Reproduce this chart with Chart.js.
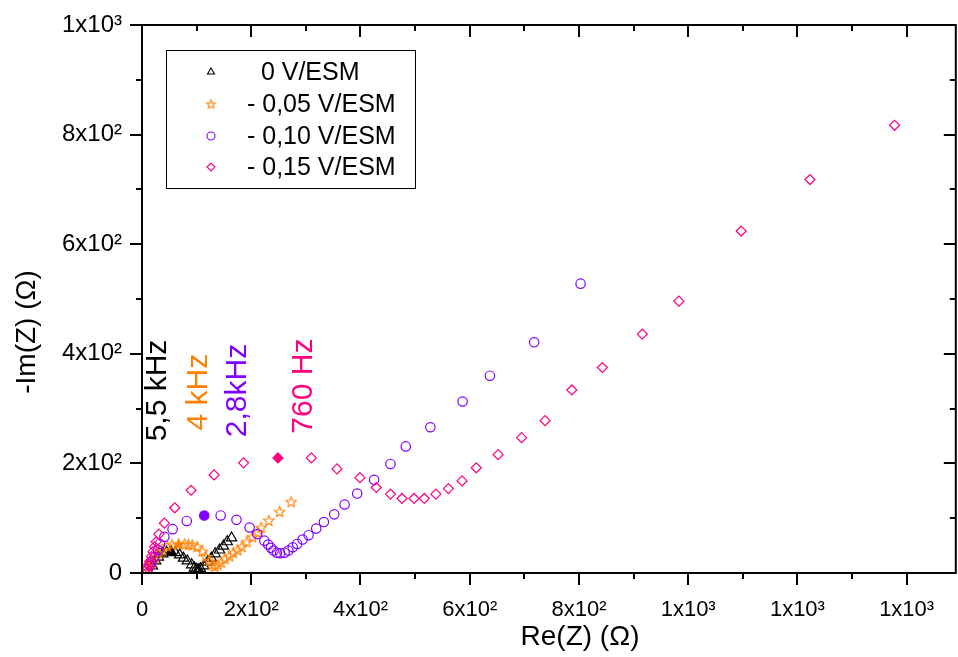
<!DOCTYPE html>
<html lang="pt">
<head>
<meta charset="UTF-8">
<title>Diagrama de Nyquist</title>
<script src="https://cdn.jsdelivr.net/npm/chart.js"></script>
<style>
    html, body { margin: 0; background: #fff; overflow: hidden; }
    /* um pouco mais largo que a janela: o Chart.js reserva ~7px à direita */
    #wrap { width: 963px; height: 657px; }
</style>
</head>
<body>
<div id="wrap"><canvas id="nyquist"></canvas></div>
<script>
// Re(Z) e -Im(Z) em ohm
const re0  = [19, 25, 30, 38, 45, 53, 61, 69, 76, 83, 91, 96, 99, 102, 104, 107, 113, 120, 127, 134, 142, 149, 156, 164];
const im0  = [13, 22, 29, 35, 38, 39, 37, 33, 27, 22, 15, 9, 7, 5, 6, 8, 13, 20, 27, 35, 42, 49, 57, 64];
const re05 = [14, 19, 25, 31, 38, 46, 55, 67, 78, 85, 92, 101, 110, 117, 123, 128, 133, 139, 145, 152, 160, 167, 175, 183, 192, 202, 212, 218, 232, 252, 273];
const im05 = [9, 18, 29, 36, 42, 49, 52, 53, 53, 52, 51, 48, 40, 30, 22, 15, 12, 15, 19, 26, 31, 37, 42, 48, 57, 66, 74, 83, 96, 112, 130];
const re10 = [10, 14, 17, 23, 29, 33, 41, 56, 82, 114, 144, 173, 197, 211, 224, 231, 236, 241, 247, 253, 261, 268, 276, 284, 294, 305, 319, 333, 352, 371, 394, 425, 455, 483, 528, 587, 637, 718, 803];
const im10 = [6, 13, 20, 29, 42, 53, 66, 80, 95, 105, 105, 97, 83, 71, 59, 52, 46, 41, 37, 36, 37, 41, 47, 53, 61, 69, 81, 93, 107, 125, 145, 170, 199, 231, 266, 313, 360, 421, 528];
const re15 = [10, 10, 12, 14, 17, 20, 23, 26, 31, 41, 60, 90, 132, 186, 249, 310, 357, 399, 429, 455, 476, 498, 517, 538, 561, 586, 612, 652, 695, 738, 787, 843, 916, 983, 1097, 1223, 1378];
const im15 = [2, 9, 15, 21, 30, 39, 48, 57, 71, 91, 119, 151, 179, 201, 210, 210, 190, 174, 156, 144, 136, 136, 136, 144, 154, 168, 192, 216, 247, 278, 334, 375, 436, 496, 624, 718, 817];

// ponto da frequência característica (marcador cheio) em cada série
const destaque = [5, 7, 9, 14];

const rotulos = ['  0 V/ESM', '- 0,05 V/ESM', '- 0,10 V/ESM', '- 0,15 V/ESM'];
const cores = ['#000000', '#FF8000', '#8000FF', '#FF0080'];

// anotações de frequência: texto e posição (Re, -Im) do centro
const freqTexto = ['5,5 kHz', '4 kHz', '2,8kHz', '760 Hz'];
const freqRe = [29, 103, 175, 296];
const freqIm = [333, 330, 333, 341];

const xTicks = [0, 200, 400, 600, 800, 1000, 1200, 1400];
const yTicks = [0, 200, 400, 600, 800, 1000];

const fonte = "'Liberation Sans', Arial, sans-serif";

function estrela(cor, cheia, r) {
    const c = document.createElement('canvas');
    c.width = c.height = 2 * r + 4;
    const g = c.getContext('2d');
    g.beginPath();
    for (let i = 0; i < 10; i++) {
        const rr = i % 2 ? r * 0.45 : r;
        const a = -Math.PI / 2 + i * Math.PI / 5;
        g.lineTo(r + 2 + rr * Math.cos(a), r + 2.5 + rr * Math.sin(a));
    }
    g.closePath();
    g.lineWidth = 1.1;
    g.strokeStyle = cor;
    if (cheia) { g.fillStyle = cor; g.fill(); }
    g.stroke();
    return c;
}

const estAberta = estrela(cores[1], false, 5.5);
const estCheia = estrela(cores[1], true, 5.5);
const estLegenda = estrela(cores[1], false, 4.5);

function pontos(re, im) {
    return re.map((x, i) => ({ x: x, y: im[i] }));
}

function serie(k, re, im, estilo, raio) {
    const n = re.length;
    return {
        label: rotulos[k],
        data: pontos(re, im),
        showLine: false,
        borderColor: cores[k],
        borderWidth: 1.2,
        pointRadius: raio,
        pointStyle: estilo === 'star'
            ? re.map((_, i) => i === destaque[k] ? estCheia : estAberta)
            : estilo,
        backgroundColor: Array.from({ length: n }, (_, i) => i === destaque[k] ? cores[k] : 'rgba(0,0,0,0)'),
        order: 4 - k
    };
}

function rotulo(v) {
    if (v === 0) return '0';
    const e = Math.floor(Math.log10(v));
    const m = Math.floor(v / Math.pow(10, e));
    return m + 'x10' + (e === 2 ? '\u00b2' : '\u00b3');
}

const moldura = {
    id: 'moldura',
    afterDraw(chart) {
        const ctx = chart.ctx;
        const a = chart.chartArea;
        const xs = chart.scales.x, ys = chart.scales.y;
        ctx.save();
        ctx.strokeStyle = '#000';
        ctx.lineWidth = 2;
        ctx.strokeRect(a.left, a.top, a.right - a.left, a.bottom - a.top);

        ctx.beginPath();
        for (let v = 0; v <= xs.max; v += 100) {
            const px = Math.round(xs.getPixelForValue(v));
            const len = v % 200 === 0 ? 12 : 6;
            ctx.moveTo(px, a.bottom); ctx.lineTo(px, a.bottom + len);
            ctx.moveTo(px, a.top); ctx.lineTo(px, a.top + len);
        }
        for (let v = 0; v <= ys.max; v += 100) {
            const py = Math.round(ys.getPixelForValue(v));
            const len = v % 200 === 0 ? 12 : 6;
            ctx.moveTo(a.left, py); ctx.lineTo(a.left - len, py);
            ctx.moveTo(a.right, py); ctx.lineTo(a.right - len, py);
        }
        ctx.stroke();

        // títulos dos eixos
        ctx.fillStyle = '#000';
        ctx.font = '28px ' + fonte;
        ctx.textAlign = 'center';
        ctx.textBaseline = 'middle';
        ctx.fillText('Re(Z) (\u03a9)', 580, 637);
        ctx.save();
        ctx.translate(27, 332);
        ctx.rotate(-Math.PI / 2);
        ctx.fillText('-Im(Z) (\u03a9)', 0, 0);
        ctx.restore();

        // anotações de frequência
        ctx.font = '30px ' + fonte;
        freqTexto.forEach((t, k) => {
            ctx.save();
            ctx.translate(xs.getPixelForValue(freqRe[k]), ys.getPixelForValue(freqIm[k]));
            ctx.rotate(-Math.PI / 2);
            ctx.fillStyle = cores[k];
            ctx.fillText(t, 0, 0);
            ctx.restore();
        });

        // legenda
        ctx.lineWidth = 1;
        ctx.strokeStyle = '#000';
        ctx.strokeRect(166.5, 50.5, 249, 138);
        ctx.font = '25px ' + fonte;
        ctx.textAlign = 'left';
        const linhas = [72, 104, 136, 167];
        chart.data.datasets.forEach((ds, k) => {
            const y = linhas[k];
            ctx.strokeStyle = cores[k];
            ctx.fillStyle = 'rgba(0,0,0,0)';
            ctx.lineWidth = 1.1;
            if (k === 1) {
                ctx.drawImage(estLegenda, 211 - estLegenda.width / 2, y - estLegenda.height / 2);
            } else {
                Chart.helpers.drawPoint(ctx, {
                    pointStyle: ds.pointStyle, radius: 4, rotation: 0, borderWidth: 1.1
                }, 211, y);
            }
            ctx.fillStyle = '#000';
            ctx.fillText(ds.label, 247, y + 1);
        });
        ctx.restore();
    }
};

new Chart(document.getElementById('nyquist'), {
    type: 'scatter',
    data: {
        datasets: [
            serie(0, re0, im0, 'triangle', 6),
            serie(1, re05, im05, 'star', 5),
            serie(2, re10, im10, 'circle', 4.7),
            serie(3, re15, im15, 'rectRot', 5)
        ]
    },
    options: {
        responsive: true,
        maintainAspectRatio: false,
        animation: false,
        layout: { padding: { top: 25, right: 0, left: 0, bottom: 0 } },
        plugins: { legend: { display: false }, tooltip: { enabled: false } },
        scales: {
            x: {
                type: 'linear', min: 0, max: 1490,
                afterBuildTicks: s => { s.ticks = xTicks.map(v => ({ value: v })); },
                afterFit: s => {
                    s.height = 84;
                    s.paddingLeft = 0;
                    s.paddingRight = 0;
                },
                grid: { display: false, drawTicks: false },
                border: { display: false },
                ticks: {
                    callback: rotulo, autoSkip: false, maxRotation: 0,
                    color: '#000', padding: 24, font: { family: fonte, size: 22 }
                }
            },
            y: {
                type: 'linear', min: 0, max: 1000,
                afterBuildTicks: s => { s.ticks = yTicks.map(v => ({ value: v })); },
                afterFit: s => {
                    s.width = 142;
                    s.paddingTop = 0;
                    s.paddingBottom = 0;
                },
                grid: { display: false, drawTicks: false },
                border: { display: false },
                ticks: {
                    callback: rotulo, autoSkip: false,
                    color: '#000', padding: 20, font: { family: fonte, size: 24 }
                }
            }
        }
    },
    plugins: [moldura]
});
</script>
</body>
</html>
